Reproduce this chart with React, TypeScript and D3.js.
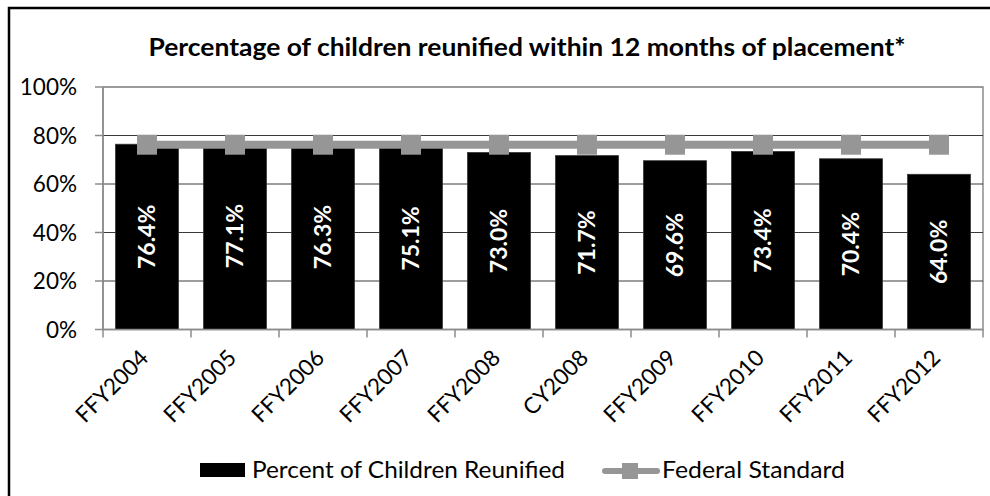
import React from "react";
import * as d3 from "d3";

const categories = ["FFY2004", "FFY2005", "FFY2006", "FFY2007", "FFY2008", "CY2008", "FFY2009", "FFY2010", "FFY2011", "FFY2012"];
const reunified = [76.4, 77.1, 76.3, 75.1, 73.0, 71.7, 69.6, 73.4, 70.4, 64.0];
const federalStandard = [76.2, 76.2, 76.2, 76.2, 76.2, 76.2, 76.2, 76.2, 76.2, 76.2];
const yTicks = [0, 20, 40, 60, 80, 100];

const W = 990;
const H = 496;
const left = 103;
const right = 983;
const top = 87;
const bottom = 329.5;
const FONT = "Lato, 'Open Sans', sans-serif";

export default function App() {
  const x = d3.scaleBand<string>().domain(categories).range([left, right]).paddingInner(0.2857).paddingOuter(0.1428);
  const xc = d3.scaleBand<string>().domain(categories).range([left, right]);
  const y = d3.scaleLinear().domain([0, 100]).range([bottom, top]);
  const line = d3
    .line<number>()
    .x((_, i) => (xc(categories[i]) as number) + xc.bandwidth() / 2)
    .y((d) => y(d));
  const boundaries = categories.map((c) => xc(c) as number).concat([right]);

  return (
    <svg width={W} height={H} style={{ position: "absolute", left: 0, top: 0 }}>
      <rect x={0} y={0} width={W} height={H} fill="#fff" />
      <rect x={9} y={8} width={1100} height={600} fill="none" stroke="#000" strokeWidth={2.5} />
      <text x={527} y={56} textAnchor="middle" fontFamily={FONT} fontWeight="bold" fontSize={24} textLength={757} lengthAdjust="spacingAndGlyphs" fill="#000">
        Percentage of children reunified within 12 months of placement*
      </text>
      {/* plot area border */}
      <rect x={left} y={top} width={right - left} height={bottom - top} fill="none" stroke="#8c8c8c" strokeWidth={1.5} />
      {yTicks.map((t) => (
        <g key={t}>
          <line x1={left} x2={right} y1={y(t)} y2={y(t)} stroke={t === 0 || t === 100 ? "#8c8c8c" : "#3a3a3a"} strokeWidth={1} />
          <line x1={95} x2={left} y1={y(t)} y2={y(t)} stroke="#8c8c8c" strokeWidth={1.5} />
          <text x={77} y={y(t)} dy="0.36em" textAnchor="end" fontFamily={FONT} fontSize={22.5} fill="#000">
            {t}%
          </text>
        </g>
      ))}
      {/* bars */}
      {categories.map((c, i) => (
        <rect key={c} x={x(c)} y={y(reunified[i])} width={x.bandwidth()} height={bottom - y(reunified[i])} fill="#000" stroke="#333" strokeWidth={0.8} />
      ))}
      {/* axes */}
      <line x1={left} x2={left} y1={top} y2={bottom} stroke="#8c8c8c" strokeWidth={1.5} />
      <line x1={left} x2={right} y1={bottom} y2={bottom} stroke="#8c8c8c" strokeWidth={1.5} />
      {boundaries.map((b, i) => (
        <line key={i} x1={b} x2={b} y1={bottom} y2={bottom + 8} stroke="#8c8c8c" strokeWidth={1.5} />
      ))}
      {/* federal standard line */}
      <path d={line(federalStandard) as string} fill="none" stroke="#969696" strokeWidth={8} />
      {federalStandard.map((v, i) => {
        const cx = (xc(categories[i]) as number) + xc.bandwidth() / 2;
        return <rect key={i} x={cx - 10} y={y(v) - 10} width={20} height={20} fill="#969696" />;
      })}
      {/* bar labels */}
      {categories.map((c, i) => {
        const cx = (x(c) as number) + x.bandwidth() / 2;
        const cy = y(reunified[i] / 2);
        return (
          <text key={c} transform={`translate(${cx},${cy}) rotate(-90)`} textAnchor="middle" dy="0.36em" fontFamily={FONT} fontWeight="bold" fontSize={23} fill="#fff">
            {reunified[i].toFixed(1)}%
          </text>
        );
      })}
      {/* x labels */}
      {categories.map((c) => {
        const cx = (xc(c) as number) + xc.bandwidth() / 2;
        return (
          <text key={c} transform={`translate(${cx - 3},${bottom + 24}) rotate(-45)`} textAnchor="end" dy="0.36em" fontFamily={FONT} fontSize={22.5} fill="#000">
            {c}
          </text>
        );
      })}
      {/* legend */}
      <rect x={200} y={463} width={45} height={14} fill="#000" />
      <text x={252} y={478} fontFamily={FONT} fontSize={24} textLength={313} lengthAdjust="spacingAndGlyphs" fill="#000">
        Percent of Children Reunified
      </text>
      <line x1={605} x2={657} y1={471} y2={471} stroke="#969696" strokeWidth={6} strokeLinecap="round" />
      <rect x={622} y={463} width={16} height={16} fill="#969696" />
      <text x={662} y={478} fontFamily={FONT} fontSize={24} textLength={183} lengthAdjust="spacingAndGlyphs" fill="#000">
        Federal Standard
      </text>
    </svg>
  );
}
